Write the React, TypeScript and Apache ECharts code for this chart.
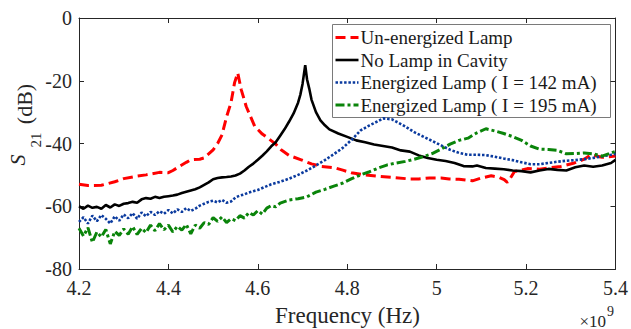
import React, { useEffect, useRef } from "react";
import * as echarts from "echarts";

const FONT = "Liberation Serif";
const AXIS_COLOR = "#262626";

const xTickLabels = ["4.2", "4.4", "4.6", "4.8", "5", "5.2", "5.4"];
const yTickLabels = ["-80", "-60", "-40", "-20", "0"];

const seriesNames = [
  "Un-energized Lamp",
  "No Lamp in Cavity",
  "Energized Lamp ( I = 142 mA)",
  "Energized Lamp ( I = 195 mA)",
];

// Frequency in GHz (axis shows ×10^9 Hz), S21 in dB
const redF = [4.2, 4.22, 4.25, 4.28, 4.3, 4.33, 4.35, 4.38, 4.4, 4.41, 4.42, 4.44, 4.45, 4.47, 4.48, 4.5, 4.51, 4.52, 4.53, 4.54, 4.548, 4.555, 4.563, 4.574, 4.593, 4.61, 4.622, 4.64, 4.652, 4.67, 4.697, 4.72, 4.742, 4.771, 4.79, 4.809, 4.84, 4.872, 4.9, 4.939, 4.96, 4.984, 5.01, 5.028, 5.05, 5.08, 5.1, 5.122, 5.14, 5.151, 5.158, 5.165, 5.174, 5.19, 5.203, 5.23, 5.25, 5.278, 5.308, 5.33, 5.345, 5.37, 5.4];
const redV = [-53.0, -53.4, -53.3, -52.2, -51.2, -50.4, -50.0, -49.2, -49.3, -48.6, -47.7, -46.0, -45.2, -45.0, -44.6, -42.0, -40.0, -37.2, -31.5, -27.0, -20.6, -17.5, -22.9, -28.2, -34.5, -37.0, -38.2, -40.2, -42.0, -43.8, -45.2, -46.5, -47.3, -47.7, -48.5, -49.3, -50.0, -50.5, -50.8, -51.3, -51.3, -51.0, -51.0, -51.3, -51.4, -51.9, -51.0, -50.3, -50.8, -51.5, -52.4, -51.0, -48.9, -48.5, -48.0, -48.2, -47.8, -47.3, -46.2, -45.0, -43.6, -44.4, -44.0];

const blackF = [4.2, 4.21, 4.22, 4.23, 4.24, 4.25, 4.26, 4.27, 4.28, 4.29, 4.3, 4.31, 4.32, 4.33, 4.34, 4.35, 4.36, 4.37, 4.38, 4.39, 4.4, 4.41, 4.42, 4.43, 4.44, 4.45, 4.46, 4.47, 4.48, 4.49, 4.5, 4.51, 4.52, 4.53, 4.54, 4.55, 4.56, 4.57, 4.58, 4.59, 4.6, 4.61, 4.62, 4.63, 4.64, 4.65, 4.66, 4.67, 4.68, 4.69, 4.695, 4.7, 4.706, 4.71, 4.715, 4.72, 4.73, 4.74, 4.75, 4.76, 4.78, 4.8, 4.82, 4.84, 4.86, 4.88, 4.9, 4.92, 4.94, 4.96, 4.98, 5.0, 5.02, 5.04, 5.06, 5.08, 5.09, 5.11, 5.13, 5.15, 5.17, 5.19, 5.21, 5.23, 5.25, 5.27, 5.29, 5.31, 5.33, 5.35, 5.37, 5.39, 5.4];
const blackV = [-60.0, -60.8, -59.8, -60.5, -60.2, -60.8, -59.6, -60.4, -59.4, -59.9, -59.2, -59.0, -58.6, -58.9, -57.8, -57.4, -57.6, -57.0, -57.4, -57.0, -56.8, -56.6, -56.3, -55.8, -55.4, -55.0, -54.6, -54.0, -53.2, -52.4, -51.4, -51.0, -50.8, -50.7, -50.5, -50.2, -49.6, -48.6, -47.4, -46.4, -45.2, -43.9, -42.5, -40.9, -39.6, -37.5, -35.4, -33.0, -30.4, -27.0, -24.5, -21.0, -15.0, -19.5, -22.5, -26.0, -30.0, -32.6, -34.2, -35.5, -36.8, -37.9, -39.0, -39.6, -40.3, -40.8, -41.3, -42.2, -42.6, -43.8, -44.6, -45.2, -45.6, -46.2, -47.2, -47.3, -47.0, -47.8, -48.0, -48.2, -48.6, -48.8, -49.2, -48.6, -48.1, -48.4, -48.6, -47.6, -47.0, -47.4, -47.0, -46.2, -45.2];

const blueF = [4.2, 4.21, 4.22, 4.23, 4.24, 4.25, 4.26, 4.27, 4.28, 4.29, 4.3, 4.31, 4.32, 4.33, 4.34, 4.35, 4.36, 4.37, 4.38, 4.39, 4.4, 4.41, 4.42, 4.43, 4.44, 4.45, 4.46, 4.47, 4.48, 4.49, 4.5, 4.51, 4.52, 4.53, 4.54, 4.55, 4.56, 4.57, 4.58, 4.59, 4.6, 4.61, 4.62, 4.63, 4.64, 4.65, 4.67, 4.69, 4.71, 4.73, 4.75, 4.77, 4.79, 4.81, 4.83, 4.85, 4.87, 4.88, 4.9, 4.92, 4.93, 4.95, 4.97, 4.99, 5.01, 5.03, 5.05, 5.07, 5.09, 5.11, 5.13, 5.15, 5.17, 5.19, 5.21, 5.23, 5.25, 5.27, 5.29, 5.31, 5.33, 5.35, 5.37, 5.39, 5.4];
const blueV = [-65.0, -63.5, -65.5, -63.0, -64.8, -62.8, -64.0, -65.5, -63.2, -64.6, -62.6, -63.8, -62.2, -64.0, -62.0, -63.2, -61.8, -62.8, -61.6, -62.4, -61.2, -62.3, -61.0, -61.8, -60.6, -61.5, -60.8, -59.8, -59.2, -58.6, -58.2, -58.8, -58.0, -58.9, -58.5, -57.2, -56.6, -56.2, -55.6, -55.2, -54.8, -54.2, -53.6, -53.0, -52.6, -52.2, -51.2, -50.0, -48.6, -47.0, -45.3, -43.4, -41.4, -38.8, -35.8, -34.2, -32.8, -32.0, -32.3, -33.8, -34.6, -36.4, -37.8, -39.2, -40.6, -42.0, -43.0, -43.6, -43.6, -43.7, -44.2, -44.8, -45.3, -46.0, -46.6, -46.6, -46.2, -45.8, -45.5, -45.3, -45.0, -44.6, -44.1, -43.6, -43.3];

const greenF = [4.2, 4.21, 4.22, 4.23, 4.24, 4.25, 4.26, 4.27, 4.28, 4.29, 4.3, 4.31, 4.32, 4.33, 4.34, 4.35, 4.36, 4.37, 4.38, 4.39, 4.4, 4.41, 4.42, 4.43, 4.44, 4.45, 4.46, 4.47, 4.48, 4.49, 4.5, 4.51, 4.52, 4.53, 4.54, 4.55, 4.56, 4.57, 4.58, 4.59, 4.6, 4.61, 4.62, 4.63, 4.64, 4.65, 4.67, 4.69, 4.71, 4.73, 4.75, 4.77, 4.79, 4.81, 4.83, 4.85, 4.87, 4.89, 4.91, 4.93, 4.95, 4.97, 4.99, 5.01, 5.03, 5.05, 5.07, 5.09, 5.11, 5.13, 5.15, 5.17, 5.19, 5.21, 5.23, 5.25, 5.27, 5.29, 5.31, 5.33, 5.35, 5.37, 5.39, 5.4];
const greenV = [-67.0, -69.5, -66.8, -71.5, -68.2, -69.8, -67.4, -72.0, -68.0, -69.3, -67.2, -68.9, -66.5, -69.0, -67.0, -68.4, -66.0, -67.8, -65.5, -67.5, -66.0, -68.2, -66.4, -67.6, -65.8, -68.8, -66.0, -67.0, -65.2, -65.8, -63.6, -64.8, -63.4, -65.2, -64.0, -64.6, -63.0, -63.8, -62.0, -62.8, -61.4, -62.5, -60.6, -59.8, -60.2, -59.0, -58.0, -57.6, -57.0, -55.5, -54.6, -53.6, -52.6, -51.2, -50.0, -49.0, -47.8, -46.8, -46.2, -45.7, -45.0, -44.2, -43.2, -41.8, -40.2, -39.0, -38.3, -36.6, -35.3, -36.0, -36.8, -37.8, -39.0, -40.8, -41.8, -41.9, -42.2, -43.3, -43.2, -43.0, -43.3, -44.0, -43.0, -42.5];

const COLORS = ["#ff0000", "#000000", "#0a3a9e", "#0a840a"];
const DASHES: (number[] | "solid")[] = [[10, 5], "solid", [2.5, 1.8], [9, 3, 3, 3]];
const WIDTHS = [3, 2.6, 2.6, 3];

const zip = (f: number[], v: number[]) => f.map((x, i) => [x, v[i]]);

export default function App() {
  const ref = useRef<HTMLDivElement>(null);
  useEffect(() => {
    if (!ref.current) return;
    const chart = echarts.init(ref.current, undefined, { renderer: "svg" });
    const datasets = [zip(redF, redV), zip(blackF, blackV), zip(blueF, blueV), zip(greenF, greenV)];

    const axisCommon = {
      axisLine: { show: true, onZero: false, lineStyle: { color: AXIS_COLOR, width: 1 } },
      axisTick: { show: true, inside: true, length: 5, lineStyle: { color: AXIS_COLOR, width: 1 } },
      splitLine: { show: false },
    };
    const xCommon = { type: "value", min: 4.2, max: 5.4, interval: 0.2, ...axisCommon };
    const yCommon = { type: "value", min: -80, max: 0, interval: 20, ...axisCommon };

    const legendX = 332.5, legendY = 24.5, legendW = 278, legendH = 93;
    const rowH = 22.5;
    const legendChildren: any[] = [
      { type: "rect", shape: { x: legendX, y: legendY, width: legendW, height: legendH }, style: { fill: "#fff", stroke: "#7a7a7a", lineWidth: 1 } },
    ];
    seriesNames.forEach((name, i) => {
      const cy = legendY + 13 + i * rowH;
      legendChildren.push({
        type: "line",
        shape: { x1: legendX + 3, y1: cy, x2: legendX + 26, y2: cy },
        style: { stroke: COLORS[i], lineWidth: WIDTHS[i], lineDash: DASHES[i] === "solid" ? null : DASHES[i] },
      });
      legendChildren.push({
        type: "text",
        x: legendX + 28,
        y: cy,
        style: { text: name, fontFamily: FONT, fontSize: 19, fill: "#1a1a1a", verticalAlign: "middle", align: "left" },
      });
    });

    const option: any = {
      animation: false,
      textStyle: { fontFamily: FONT },
      grid: { left: 79, right: 15, top: 18, bottom: 60 },
      xAxis: [
        {
          ...xCommon,
          position: "bottom",
          axisLabel: {
            fontFamily: FONT, fontSize: 20, color: AXIS_COLOR, margin: 9,
            formatter: (v: number) => xTickLabels[Math.round((v - 4.2) / 0.2)] ?? "",
          },
        },
        { ...xCommon, position: "top", axisLabel: { show: false } },
      ],
      yAxis: [
        {
          ...yCommon,
          position: "left",
          axisLabel: {
            fontFamily: FONT, fontSize: 20, color: AXIS_COLOR, margin: 7,
            formatter: (v: number) => yTickLabels[Math.round((v + 80) / 20)] ?? "",
          },
        },
        { ...yCommon, position: "right", axisLabel: { show: false } },
      ],
      series: datasets.map((d, i) => ({
        name: seriesNames[i],
        type: "line",
        xAxisIndex: 0,
        yAxisIndex: 0,
        data: d,
        showSymbol: false,
        symbol: "none",
        clip: true,
        lineStyle: { color: COLORS[i], width: WIDTHS[i], type: DASHES[i] },
        z: 2 + i,
      })),
      graphic: [
        { type: "group", children: legendChildren, z: 100 },
        {
          type: "text", x: 347.5, y: 315,
          style: { text: "Frequency (Hz)", fontFamily: FONT, fontSize: 23, fill: AXIS_COLOR, align: "center", verticalAlign: "middle" },
        },
        {
          type: "text", x: 606, y: 321,
          style: { text: "×10", fontFamily: FONT, fontSize: 17, fill: AXIS_COLOR, align: "right", verticalAlign: "middle" },
        },
        {
          type: "text", x: 607, y: 311,
          style: { text: "9", fontFamily: FONT, fontSize: 14, fill: AXIS_COLOR, align: "left", verticalAlign: "middle" },
        },
        {
          type: "text", x: 24, y: 104, rotation: Math.PI / 2,
          style: { text: "(dB)", fontFamily: FONT, fontSize: 22, fill: AXIS_COLOR, align: "center", verticalAlign: "middle" },
        },
        {
          type: "text", x: 36, y: 140, rotation: Math.PI / 2,
          style: { text: "21", fontFamily: FONT, fontSize: 15, fill: AXIS_COLOR, align: "center", verticalAlign: "middle" },
        },
        {
          type: "text", x: 17, y: 160, rotation: Math.PI / 2,
          style: { text: "S", fontFamily: FONT, fontSize: 22, fontStyle: "italic", fill: AXIS_COLOR, align: "center", verticalAlign: "middle" },
        },
      ],
    };
    chart.setOption(option);
    return () => chart.dispose();
  }, []);
  return <div ref={ref} style={{ width: 631, height: 329, position: "absolute", left: 0, top: 0 }} />;
}
